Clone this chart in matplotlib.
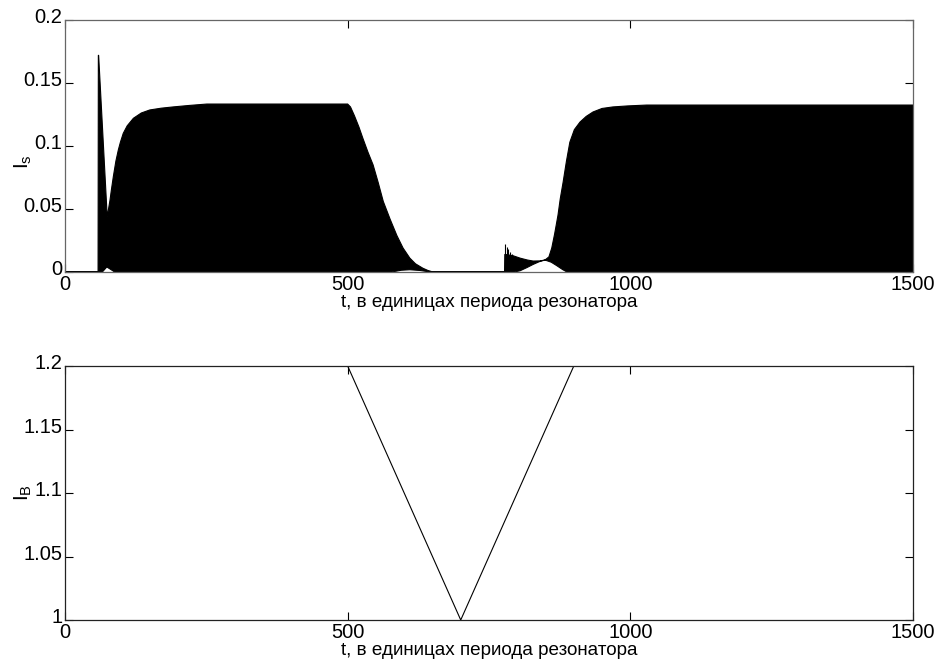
import numpy as np
import matplotlib
matplotlib.use('Agg')
import matplotlib.pyplot as plt
from matplotlib.transforms import ScaledTranslation

plt.rcParams['font.family'] = ['Liberation Sans', 'DejaVu Sans']

# upper envelope of I_s (dense oscillation)
t_up = [0, 58.5, 59, 59.5, 74.7, 77, 79.6, 82, 85.5, 90, 94.4, 98, 103, 110, 121,
        135, 150, 170, 191, 220, 251, 500, 505, 512, 520, 527, 536, 545, 554,
        563, 575, 587, 598, 610, 620, 633, 642, 651, 777.5, 778, 792, 805, 818,
        828, 840, 849, 856, 861, 866, 872, 876, 881, 887, 893, 901, 911, 922,
        934, 950, 969, 995, 1029, 1500]
is_up = [0, 0, 0.172, 0.172, 0.0437, 0.050, 0.057, 0.065, 0.0757, 0.088, 0.097,
         0.103, 0.110, 0.116, 0.122, 0.1262, 0.1286, 0.1300, 0.131, 0.1322, 0.1333,
         0.1333, 0.131, 0.124, 0.115, 0.106, 0.095, 0.085, 0.071, 0.056, 0.042,
         0.029, 0.019, 0.011, 0.0065, 0.003, 0.0012, 0, 0, 0.014, 0.013, 0.011,
         0.0095, 0.0087, 0.0088, 0.0095, 0.012, 0.019, 0.030, 0.045, 0.058, 0.071,
         0.088, 0.103, 0.113, 0.119, 0.1235, 0.127, 0.1298, 0.131, 0.1318, 0.1325,
         0.1325]
# lower envelope of I_s
t_lo = [0, 66, 74, 88, 578, 595, 610, 628, 646, 795, 805, 817, 828, 839, 849,
        860, 870, 880, 888, 1500]
is_lo = [0, 0, 0.004, 0, 0, 0.0014, 0.0018, 0.0012, 0, 0, 0.001, 0.0035, 0.006,
         0.0082, 0.0095, 0.0078, 0.005, 0.002, 0, 0]
# single spikes at the restart near t=780
spike_t = [778, 781, 784, 787, 790]
spike_h = [0.022, 0.020, 0.018, 0.016, 0.014]

# pump I_B
t_b = [0, 500, 700, 900, 1500]
i_b = [1.2, 1.2, 1.0, 1.2, 1.2]

xticks = [0, 500, 1000, 1500]
xlabel = 't, в единицах периода резонатора'

fig = plt.figure(figsize=(9.4, 6.62), dpi=100)
ax1 = fig.add_axes([65 / 940, 1 - 272 / 662, 848 / 940, 252 / 662])
ax2 = fig.add_axes([65 / 940, 1 - 620 / 662, 848 / 940, 254 / 662])

ax1.fill(np.r_[t_up, t_lo[::-1]], np.r_[is_up, is_lo[::-1]], color='black', lw=0.8)
ax1.vlines(spike_t, 0, spike_h, color='black', lw=0.8)
ax1.set_xlim(0, 1500)
ax1.set_ylim(0, 0.2)
ax1.set_yticks([0, 0.05, 0.1, 0.15, 0.2], ['0', '0.05', '0.1', '0.15', '0.2'])
ax1.set_ylabel(r'$\mathregular{I_s}$', fontsize=15)
ax1.yaxis.set_label_coords(-0.036, 0.44)

ax2.plot(t_b, i_b, color='black', lw=0.8)
ax2.set_xlim(0, 1500)
ax2.set_ylim(1, 1.2)
ax2.set_yticks([1, 1.05, 1.1, 1.15, 1.2], ['1', '1.05', '1.1', '1.15', '1.2'])
ax2.set_ylabel(r'$\mathregular{I_B}$', fontsize=15)
ax2.yaxis.set_label_coords(-0.036, 0.5)

lift = ScaledTranslation(0, 3 / 72, fig.dpi_scale_trans)
for ax, sc in ((ax1, '#666666'), (ax2, '#222222')):
    ax.set_xticks(xticks, [str(v) for v in xticks])
    ax.set_xlabel(xlabel, fontsize=13.6, labelpad=0)
    ax.tick_params(direction='in', top=True, right=True, length=6, width=0.8,
                   labelsize=14.5, pad=2, colors='black')
    for lab in ax.get_yticklabels():
        lab.set_transform(lab.get_transform() + lift)
    for s in ax.spines.values():
        s.set_color(sc)
        s.set_linewidth(0.9)

fig.savefig('out.png', dpi=100)
